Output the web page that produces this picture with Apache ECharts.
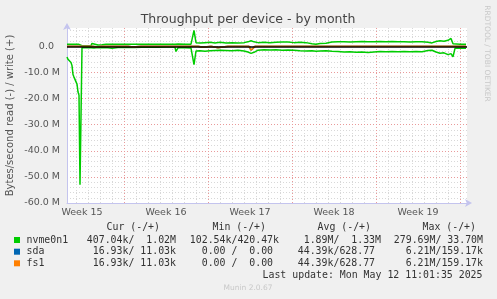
<!DOCTYPE html>
<html>
<head>
<meta charset="utf-8">
<script src="https://cdn.jsdelivr.net/npm/echarts@6/dist/echarts.min.js"></script>
<style>
  html, body { margin: 0; padding: 0; background: #f0f0f0; }
  #main { width: 497px; height: 299px; }
</style>
</head>
<body>
<div id="main"></div>
<script>
// x positions are 2-hour steps counted from Mon 14 Apr 2025 00:00
var nvmeSteps = [-57, -56, -55, -54, -53, -52, -51, -50, -49, -48, -47, -46, -45, -44,
  -42, -38, -33, -32, -30, -26, -22, -18,
  -12, -6, 2, 10, 18, 26, 34, 42, 48, 51, 52, 54, 61, 67, 68, 70, 72,
  76, 81, 86, 91, 96, 102, 108, 114, 120, 124, 127, 130, 134,
  140, 146, 152, 158, 164, 170, 176, 182, 188, 192, 196, 202, 208, 214, 220, 226, 232, 238, 244, 250, 256,
  262, 268, 274, 280, 286, 292, 298, 304, 308, 312, 316, 320, 324, 327, 329, 331, 336, 342];
// MB/s
var nvmeWrite = [.75, .75, .75, .75, .75, .75, .75, .75, .75, .75, .75, .75, .75, .75,
  .2, .2, .25, 1.1, .6, .5, .55, .75,
  .75, .75, .75, .8, .75, .75, .75, .75, .8, .75, .8, .85, .8, .8, .8, 6.1, 1.4,
  1.3, 1.4, 1.5, 1.3, 1.5, 1.3, 1.4, 1.3, 1.4, 1.7, 2.1, 1.7, 1.4,
  1.5, 1.4, 1.5, 1.6, 1.6, 1.4, 1.5, 1.4, 1.0, .8, 1.1, 1.2, 1.6, 1.7, 1.7, 1.6, 1.7, 1.8, 1.7, 1.7, 1.8,
  1.7, 1.8, 1.7, 1.7, 1.6, 1.7, 1.7, 1.5, 1.3, 1.8, 2.1, 1.9, 2.3, 3.0, 1.0, .75, .75, .75];
var nvmeRead = [4.1, 5.0, 4.5, 5.6, 6.2, 7.4, 10.8, 11.8, 11.2, 12.2, 14.5, 17.5, 18.7, 53.0,
  .6, .6, .6, .5, .7, .5, .6, .5,
  .8, .5, .4, .5, .4, .35, .4, .3, .3, .4, 2.0, .6, .6, .7, .8, 7.0, 1.8,
  1.7, 1.9, 1.7, 1.6, 1.5, 1.6, 1.7, 1.5, 1.8, 2.2, 2.7, 2.3, 1.5,
  1.3, 1.4, 1.3, 1.5, 1.4, 1.5, 1.7, 1.8, 1.7, 1.9, 1.8, 1.7, 1.9, 2.0, 2.2, 2.1, 2.3, 2.2, 2.4, 2.2, 2.0,
  2.1, 2.0, 2.1, 2.0, 2.1, 2.0, 2.1, 1.6, 1.5, 2.2, 2.7, 2.5, 3.2, 2.8, 4.0, .8, .8, .8];

// sda and fs1 report the same numbers
var diskSteps = [-57, -44, -42, -40, -32, -30, -26, -23, -16, -14, -12, -8, -7, -5, 4, 6, 9, 11, 17, 19, 21,
  34, 36, 38, 54, 56, 59, 61, 63, 74, 76, 79, 81, 87, 89, 94, 96, 104, 106, 108,
  125, 127, 129, 131, 141, 143, 145, 154, 156, 158, 164, 166, 168, 191, 193, 195,
  211, 213, 215, 227, 229, 231, 244, 246, 248, 267, 269, 271, 287, 289, 291,
  304, 306, 308, 311, 313, 315, 331, 333, 335, 342];
var diskRead = [.02, .02, .4, .02, .02, .35, .3, .02, .02, .3, .02, .02, .3, .02, .02, .35, .3, .02, .02, .3, .02,
  .02, .3, .02, .02, .3, .02, .35, .02, .02, .4, .4, .02, .02, .7, .6, .02, .02, .3, .02,
  .02, 1.5, 1.1, .02, .02, .3, .02, .02, .3, .02, .02, .3, .02, .02, .3, .02,
  .02, .3, .02, .02, .3, .02, .02, .3, .02, .02, .3, .02, .02, .3, .02,
  .02, .3, .02, .02, .3, .02, .02, .3, .02, .02];

var weekNames = ['Week 15', 'Week 16', 'Week 17', 'Week 18', 'Week 19'];

var legendNames = ['nvme0n1', 'sda', 'fs1'];
var legendColors = ['#00cc00', '#0066b3', '#ff8000'];
var colHeads = ['Cur (-/+)', 'Min (-/+)', 'Avg (-/+)', 'Max (-/+)'];
var curVals = ['407.04k/  1.02M', ' 16.93k/ 11.03k', ' 16.93k/ 11.03k'];
var minVals = ['102.54k/420.47k', '  0.00 /  0.00 ', '  0.00 /  0.00 '];
var avgVals = ['  1.89M/  1.33M', ' 44.39k/628.77 ', ' 44.39k/628.77 '];
var maxVals = ['279.69M/ 33.70M', '  6.21M/159.17k', '  6.21M/159.17k'];

var mono = "9.9px 'DejaVu Sans Mono'";
var gridGray = '#d8d8d8';
var gridRed = '#e99a9a';
var axisBlue = '#c4c4ee';

function pairs(xs, ys, sign) {
  return xs.map(function (x, i) { return [x, sign * ys[i]]; });
}

function lineSeries(name, color, data, extra) {
  var s = {
    name: name,
    type: 'line',
    data: data,
    showSymbol: false,
    lineStyle: { color: color, width: 1.5 },
    itemStyle: { color: color },
    animation: false,
    silent: true
  };
  return Object.assign(s, extra || {});
}

var graphics = [];
// legend table
var headRight = [160, 266, 371, 476];
var colRight = [176, 279, 381, 483];
var rowY = [240, 251.7, 263.3];
colHeads.forEach(function (h, i) {
  graphics.push({ type: 'text', style: { text: h, x: headRight[i], y: 227.7, font: mono, fill: '#333', align: 'right', verticalAlign: 'middle' } });
});
legendNames.forEach(function (n, r) {
  graphics.push({ type: 'rect', shape: { x: 14, y: rowY[r] - 3, width: 6, height: 6 }, style: { fill: legendColors[r] } });
  graphics.push({ type: 'text', style: { text: n, x: 26.5, y: rowY[r], font: mono, fill: '#333', verticalAlign: 'middle' } });
  [curVals, minVals, avgVals, maxVals].forEach(function (col, c) {
    graphics.push({ type: 'text', style: { text: col[r], x: colRight[c], y: rowY[r], font: mono, fill: '#333', align: 'right', verticalAlign: 'middle' } });
  });
});
graphics.push({ type: 'text', style: { text: 'Last update: Mon May 12 11:01:35 2025', x: 482.5, y: 275.3, font: mono, fill: '#333', align: 'right', verticalAlign: 'middle' } });
graphics.push({ type: 'text', style: { text: 'Munin 2.0.67', x: 248, y: 288.3, font: "7.5px 'DejaVu Sans'", fill: '#c8c8c8', align: 'center', verticalAlign: 'middle' } });
graphics.push({ type: 'text', rotation: -Math.PI / 2, x: 487, y: 53.5, style: { text: 'RRDTOOL / TOBI OETIKER', x: 0, y: 0, font: "7.5px 'DejaVu Sans'", fill: '#c8c8c8', align: 'center', verticalAlign: 'middle' } });
graphics.push({ type: 'text', rotation: Math.PI / 2, x: 10.5, y: 115.5, style: { text: 'Bytes/second read (-) / write (+)', x: 0, y: 0, font: "10px 'DejaVu Sans'", fill: '#555', align: 'center', verticalAlign: 'middle' } });
graphics.push({ type: 'text', style: { text: 'Throughput per device - by month', x: 248, y: 19.5, font: "12.5px 'DejaVu Sans'", fill: '#444', align: 'center', verticalAlign: 'middle' } });

// plot area: 400 px, one px per 2-hour step
var plotLeft = 67, plotTop = 28, plotW = 400, plotH = 175;
var xMin = -57, xMax = 343;
var yMin = -60, yMax = 7;
// ticks are counted from min, so each vertical grid set lives in a grid whose left edge sits on its first line
var dayOffset = 9, weekOffset = 57, labelOffset = 15;

function rect(offset) {
  return { left: plotLeft + offset, top: plotTop, width: plotW - offset, height: plotH, containLabel: false, show: false };
}

function hiddenAxis(extra) {
  return Object.assign({
    type: 'value',
    axisLine: { show: false }, axisTick: { show: false }, axisLabel: { show: false },
    splitLine: { show: false }
  }, extra);
}

var option = {
  backgroundColor: '#f0f0f0',
  animation: false,
  grid: [
    Object.assign(rect(0), { show: true, backgroundColor: '#ffffff', borderWidth: 0 }),
    rect(dayOffset),
    rect(weekOffset),
    rect(labelOffset)
  ],
  xAxis: [
    {
      type: 'value', gridIndex: 0, min: xMin, max: xMax, position: 'bottom', z: 3,
      axisLine: { onZero: false, lineStyle: { color: axisBlue, width: 1 }, symbol: ['none', 'arrow'], symbolSize: [6, 7], symbolOffset: [0, 5] },
      axisTick: { show: false },
      splitLine: { show: false },
      axisLabel: { show: false }
    },
    // day lines
    hiddenAxis({
      gridIndex: 1, min: 0, max: plotW - dayOffset, interval: 12, z: 0,
      splitLine: { show: true, showMinLine: true, showMaxLine: false, lineStyle: { color: gridGray, type: [1, 2], width: 1 } }
    }),
    // week boundaries
    hiddenAxis({
      gridIndex: 2, min: 0, max: plotW - weekOffset, interval: 84, z: 1,
      splitLine: { show: true, showMinLine: true, showMaxLine: false, lineStyle: { color: gridRed, type: [1, 2], width: 1 } }
    }),
    // week names in the middle of each week
    hiddenAxis({
      gridIndex: 3, min: 0, max: plotW - labelOffset, interval: 84, position: 'bottom',
      axisLabel: {
        show: true, color: '#555', fontFamily: 'DejaVu Sans', fontSize: 9.5, margin: 5, interval: 0,
        showMinLabel: true, showMaxLabel: false,
        formatter: function (v) { return weekNames[Math.round(v / 84)] || ''; }
      }
    })
  ],
  yAxis: [
    {
      type: 'value', gridIndex: 0, min: yMin, max: yMax, interval: 10, position: 'left', z: 3,
      axisLine: { show: true, onZero: false, lineStyle: { color: axisBlue, width: 1 }, symbol: ['none', 'arrow'], symbolSize: [6, 7], symbolOffset: [0, 5] },
      axisTick: { show: false },
      splitLine: { show: true, showMinLine: false, showMaxLine: false, lineStyle: { color: gridRed, type: [1, 2], width: 1 } },
      axisLabel: {
        color: '#555', fontFamily: 'DejaVu Sans', fontSize: 9.5, margin: 7, showMaxLabel: false,
        formatter: function (v) {
          if (v > 0) return '';
          return v === 0 ? '0.0\u00a0\u00a0' : v.toFixed(1) + ' M';
        }
      }
    },
    hiddenAxis({
      gridIndex: 0, min: yMin, max: yMax, interval: 2, position: 'right', z: 0,
      splitLine: { show: true, showMinLine: false, showMaxLine: false, lineStyle: { color: gridGray, type: [1, 2], width: 1 } }
    }),
    hiddenAxis({ gridIndex: 1, min: yMin, max: yMax }),
    hiddenAxis({ gridIndex: 2, min: yMin, max: yMax }),
    hiddenAxis({ gridIndex: 3, min: yMin, max: yMax })
  ],
  series: [
    lineSeries('nvme0n1 write', '#00cc00', pairs(nvmeSteps, nvmeWrite, 1)),
    lineSeries('nvme0n1 read', '#00cc00', pairs(nvmeSteps, nvmeRead, -1)),
    lineSeries('sda read', '#0066b3', pairs(diskSteps, diskRead, -1)),
    lineSeries('fs1 read', '#ff8000', pairs(diskSteps, diskRead, -1), {
      markLine: {
        silent: true, symbol: ['none', 'none'], label: { show: false },
        lineStyle: { color: '#000000', width: 1.5, type: 'solid' },
        data: [{ yAxis: 0 }]
      }
    })
  ],
  graphic: graphics
};

var chart = echarts.init(document.getElementById('main'), null, { renderer: 'canvas' });
chart.setOption(option);
</script>
</body>
</html>
